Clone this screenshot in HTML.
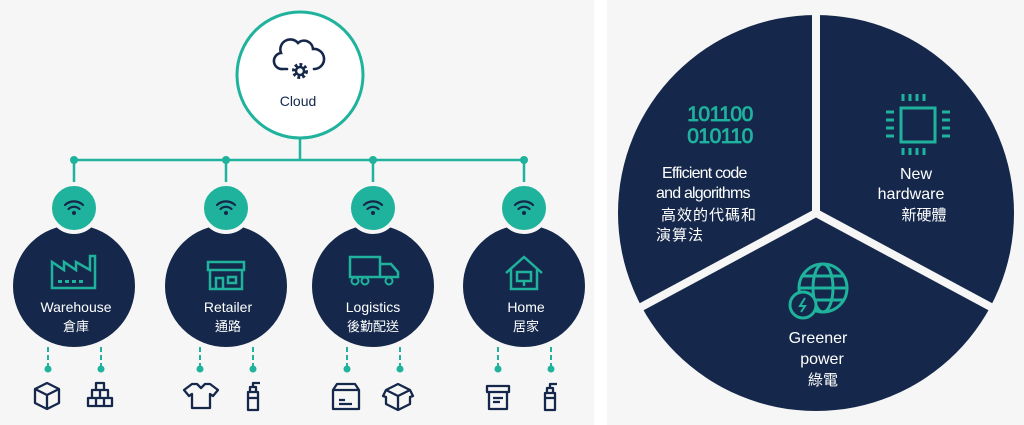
<!DOCTYPE html>
<html><head><meta charset="utf-8"><style>
html,body{margin:0;padding:0;background:#fff;}
svg{display:block}
text{font-family:"Liberation Sans","Noto Sans CJK TC",sans-serif;}
</style></head><body>
<svg width="1024" height="425" viewBox="0 0 1024 425" xmlns="http://www.w3.org/2000/svg">
<rect x="0" y="0" width="1024" height="425" fill="#fff"/>
<rect x="0" y="0" width="594" height="425" fill="#f6f6f6"/>
<rect x="607" y="0" width="417" height="425" fill="#f6f6f6"/>

<g stroke="#1fb29c" stroke-width="2.5" fill="none">
<line x1="300" y1="139" x2="300" y2="160"/>
<line x1="74" y1="160" x2="524" y2="160"/>
<line x1="74" y1="160" x2="74" y2="182"/>
<line x1="226" y1="160" x2="226" y2="182"/>
<line x1="373" y1="160" x2="373" y2="182"/>
<line x1="524" y1="160" x2="524" y2="182"/>
</g>
<g fill="#1fb29c">
<circle cx="74" cy="160" r="4"/><circle cx="226" cy="160" r="4"/><circle cx="373" cy="160" r="4"/><circle cx="524" cy="160" r="4"/>
</g>
<circle cx="300" cy="75" r="63" fill="#fff" stroke="#1fb29c" stroke-width="3"/>
<g fill="none" stroke="#15284b" stroke-width="2.6" stroke-linecap="round">
<path d="M287 69 H283 a8 8 0 0 1 -2 -16 a10 10 0 0 1 17 -10 a9 9 0 0 1 15 6 a8 8 0 0 1 2 20 H314"/>
</g>
<circle cx="300" cy="71" r="6" fill="none" stroke="#15284b" stroke-width="4" stroke-dasharray="2.6 2"/>
<circle cx="300" cy="71" r="4" fill="none" stroke="#15284b" stroke-width="2.5"/>
<text x="298" y="106" font-size="14" fill="#15284b" text-anchor="middle">Cloud</text>

<g fill="#15284b" stroke="#f6f6f6" stroke-width="2">
<circle cx="74" cy="286" r="62"/><circle cx="226" cy="286" r="62"/><circle cx="373" cy="286" r="62"/><circle cx="524" cy="286" r="62"/>
</g>
<g fill="#1fb29c" stroke="#f6f6f6" stroke-width="4">
<circle cx="74" cy="208" r="24"/><circle cx="226" cy="208" r="24"/><circle cx="373" cy="208" r="24"/><circle cx="524" cy="208" r="24"/>
</g>
<g fill="none" stroke="#15284b" stroke-width="2.2" stroke-linecap="round">
<g transform="translate(74,208)"><path d="M-9 -3 a13 13 0 0 1 18 0 M-5.5 1 a8 8 0 0 1 11 0"/></g>
<g transform="translate(226,208)"><path d="M-9 -3 a13 13 0 0 1 18 0 M-5.5 1 a8 8 0 0 1 11 0"/></g>
<g transform="translate(373,208)"><path d="M-9 -3 a13 13 0 0 1 18 0 M-5.5 1 a8 8 0 0 1 11 0"/></g>
<g transform="translate(524,208)"><path d="M-9 -3 a13 13 0 0 1 18 0 M-5.5 1 a8 8 0 0 1 11 0"/></g>
</g>
<g fill="#15284b"><circle cx="74" cy="213" r="2"/><circle cx="226" cy="213" r="2"/><circle cx="373" cy="213" r="2"/><circle cx="524" cy="213" r="2"/></g>

<g fill="none" stroke="#1fb29c" stroke-width="2.5">
<path d="M52 288 V262 L64 270 V262 L76 270 V262 L90 270 V256 H95 V288 Z"/>
<path d="M208 262 H244 V270 H208 Z M210 270 V289 H242 V270 M216 289 V278 H223 V289 M228 277 H236 V283 H228 Z"/>
<path d="M350 257 H380 V277 H350 Z M380 264 H391 L398 272 V277 H380"/>
<path d="M506 273 L524 257 L542 273 M511 269 V289 H537 V269 M517 272 H531 V281 H517 Z M524 281 V286"/>
</g>
<g fill="#1fb29c"><rect x="58" y="280" width="4" height="3"/><rect x="65" y="280" width="4" height="3"/><rect x="72" y="280" width="4" height="3"/><rect x="79" y="280" width="4" height="3"/>
<circle cx="355" cy="281" r="3.5" fill="#15284b" stroke="#1fb29c" stroke-width="2"/><circle cx="365" cy="281" r="3.5" fill="#15284b" stroke="#1fb29c" stroke-width="2"/><circle cx="389" cy="281" r="3.5" fill="#15284b" stroke="#1fb29c" stroke-width="2"/></g>

<g fill="#fff" font-size="14" text-anchor="middle">
<text x="76" y="312">Warehouse</text><text x="76" y="331" font-size="13">倉庫</text>
<text x="228" y="312">Retailer</text><text x="228" y="331" font-size="13">通路</text>
<text x="373" y="312">Logistics</text><text x="373" y="331" font-size="13">後勤配送</text>
<text x="526" y="312">Home</text><text x="526" y="331" font-size="13">居家</text>
</g>

<g stroke="#1fb29c" stroke-width="2" stroke-dasharray="5 3">
<line x1="48" y1="347" x2="48" y2="368"/><line x1="101" y1="347" x2="101" y2="368"/>
<line x1="200" y1="347" x2="200" y2="368"/><line x1="253" y1="347" x2="253" y2="368"/>
<line x1="347" y1="347" x2="347" y2="368"/><line x1="400" y1="347" x2="400" y2="368"/>
<line x1="498" y1="347" x2="498" y2="368"/><line x1="551" y1="347" x2="551" y2="368"/>
</g>
<g fill="#1fb29c">
<circle cx="48" cy="369" r="3.5"/><circle cx="101" cy="369" r="3.5"/><circle cx="200" cy="369" r="3.5"/><circle cx="253" cy="369" r="3.5"/>
<circle cx="347" cy="369" r="3.5"/><circle cx="400" cy="369" r="3.5"/><circle cx="498" cy="369" r="3.5"/><circle cx="551" cy="369" r="3.5"/>
</g>
<g fill="none" stroke="#15284b" stroke-width="2.3" stroke-linejoin="round">
<path d="M35 389 L47 383 L59 389 V403 L47 409 L35 403 Z M35 389 L47 395 L59 389 M47 395 V409"/>
<path d="M88 398 h8 v8 h-8 z M96 398 h8 v8 h-8 z M104 398 h8 v8 h-8 z M92 390 h8 v8 h-8 z M100 390 h8 v8 h-8 z M96 383 h8 v7 h-8 z"/>
<path d="M192 384 L184 390 L189 396 L192 394 V408 H210 V394 L213 396 L218 390 L210 384 L205 384 L201 388 L197 384 Z"/>
<path d="M248 392 H258 V410 H248 Z M250 392 V387 H256 V392 M253 387 V383 H260 M248 398 H258"/>
<path d="M333 390 H359 V409 H333 Z M333 390 L337 384 H355 L359 390 M339 400 H345 M339 404 H352"/>
<path d="M386 390 L398 384 L410 390 L398 396 Z M386 390 L383 396 L386 397 V404 L398 410 L410 404 V397 L413 396 L410 390 M398 396 V410"/>
<path d="M487 386 H509 V392 H487 Z M489 392 H507 V409 H489 Z M493 398 H503 M493 402 H500"/>
<path d="M545 393 H555 V410 H545 Z M547 393 V388 H553 V393 M550 388 V384 H557 M545 398 H555"/>
</g>

<circle cx="816" cy="213" r="198" fill="#15284b"/>
<g stroke="#f6f6f6" stroke-width="8" stroke-linecap="butt">
<line x1="816" y1="213" x2="816" y2="0"/>
<line x1="816" y1="213" x2="630" y2="313"/>
<line x1="816" y1="213" x2="1002" y2="313"/>
</g>
<text x="720" y="121" font-size="21" fill="#1fb29c" text-anchor="middle" stroke="#1fb29c" stroke-width="0.8" letter-spacing="-0.5">101100</text>
<text x="720" y="143" font-size="21" fill="#1fb29c" text-anchor="middle" stroke="#1fb29c" stroke-width="0.8" letter-spacing="-0.5">010110</text>
<g fill="#fff" font-size="16">
<text x="662" y="178" letter-spacing="-0.8">Efficient code</text>
<text x="656" y="198" letter-spacing="-0.8">and algorithms</text>
<text x="661" y="220" font-size="15" letter-spacing="1">高效的代碼和</text>
<text x="656" y="240" font-size="15" letter-spacing="1">演算法</text>
<text x="916" y="179" text-anchor="middle">New</text>
<text x="911" y="199" text-anchor="middle">hardware</text>
<text x="924" y="220" text-anchor="middle" font-size="15">新硬體</text>
<text x="818" y="343" text-anchor="middle">Greener</text>
<text x="822" y="364" text-anchor="middle">power</text>
<text x="823" y="385" text-anchor="middle" font-size="15">綠電</text>
</g>
<g fill="none" stroke="#1fb29c" stroke-width="3">
<rect x="901" y="108" width="34" height="34"/>
</g>
<g stroke="#1fb29c" stroke-width="3">
<path d="M903 94 v7 M910 94 v7 M917 94 v7 M924 94 v7 M903 148 v7 M910 148 v7 M917 148 v7 M924 148 v7 M886 112 h8 M886 120 h8 M886 128 h8 M886 136 h8 M942 112 h8 M942 120 h8 M942 128 h8 M942 136 h8"/>
</g>
<g fill="none" stroke="#1fb29c" stroke-width="3">
<circle cx="823" cy="288" r="24"/>
<ellipse cx="823" cy="288" rx="10" ry="24"/>
<line x1="799" y1="288" x2="847" y2="288"/>
<path d="M803 276 H843 M803 300 H843"/>
</g>
<circle cx="803" cy="305" r="13" fill="#15284b" stroke="#1fb29c" stroke-width="3"/>
<path d="M805 298 L800 306 H805 L801 312" fill="none" stroke="#1fb29c" stroke-width="2"/>
</svg>
</body></html>
